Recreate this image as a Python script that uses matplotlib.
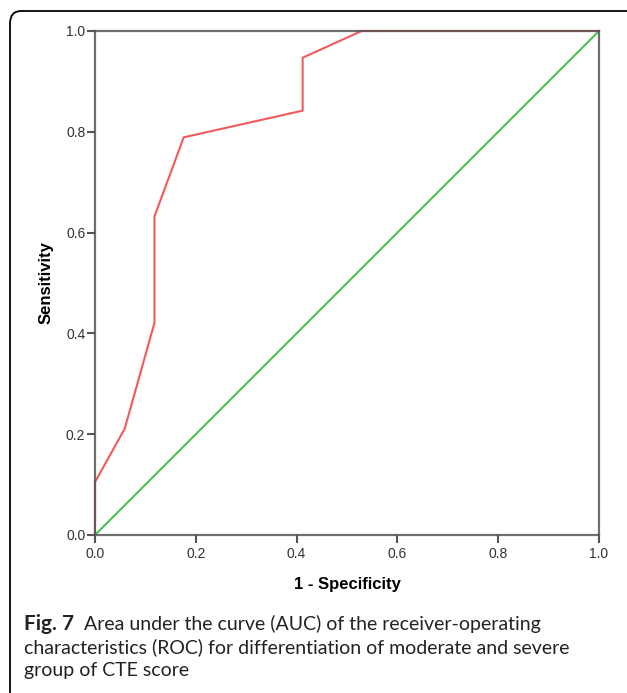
import matplotlib.pyplot as plt
from matplotlib.patches import FancyBboxPatch

# ROC curve (1 - specificity, sensitivity)
fpr = [0.0, 0.0, 0.059, 0.118, 0.118, 0.176, 0.412, 0.412, 0.529, 1.0]
tpr = [0.0, 0.105, 0.211, 0.421, 0.632, 0.789, 0.842, 0.947, 1.0, 1.0]
ref_line = [0.0, 1.0]
ticks = [0.0, 0.2, 0.4, 0.6, 0.8, 1.0]
tick_labels = ["0.0", "0.2", "0.4", "0.6", "0.8", "1.0"]

W, H = 627, 693
fig = plt.figure(figsize=(W / 100, H / 100), dpi=100)

# rounded frame around the figure (runs off the right and bottom edges)
frame = FancyBboxPatch((10 / W, -20 / H), (W + 30) / W, (H - 11 + 20) / H,
                       boxstyle="round,pad=0,rounding_size=0.018",
                       transform=fig.transFigure, fill=False,
                       edgecolor="black", linewidth=1.3, clip_on=False)
fig.patches.append(frame)

ax = fig.add_axes([95 / W, 1 - 535 / H, (599 - 95) / W, (535 - 31) / H])
ax.plot(ref_line, ref_line, color="#4cc24c", linewidth=1.5, zorder=2)
ax.plot(fpr, tpr, color="#f25a5a", linewidth=1.5, zorder=2, clip_on=False)

ax.set_xlim(0, 1)
ax.set_ylim(0, 1)
ax.set_xticks(ticks)
ax.set_yticks(ticks)
ax.set_xticklabels(tick_labels)
ax.set_yticklabels(tick_labels)
ax.tick_params(direction="out", length=6, width=1.5, color="#555555",
               labelsize=10, labelcolor="#333333")
ax.tick_params(axis="x", pad=3)
ax.tick_params(axis="y", pad=1)
for lab in ax.get_xticklabels() + ax.get_yticklabels():
    lab.set_family("Liberation Sans")
for sp in ax.spines.values():
    sp.set_color("#555555")
    sp.set_linewidth(1.6)
    sp.set_alpha(0.85)
    sp.set_zorder(3)

ax.set_xlabel("1 - Specificity", fontsize=12, fontweight="bold",
              family="Liberation Sans", labelpad=11)
ax.set_ylabel("Sensitivity", fontsize=12, fontweight="bold",
              family="Liberation Sans", labelpad=9)

# caption, bold "Fig. 7" followed by regular text on the same line
cap_x = 24 / W
cap_font = dict(fontsize=14, family="Lato", va="baseline", color="#222222")
fig.text(cap_x, 1 - 630 / H, "Fig. 7", fontweight="bold",
         **dict(cap_font, fontsize=15))
fig.text(84 / W, 1 - 630 / H,
         "Area under the curve (AUC) of the receiver-operating", **cap_font)
fig.text(cap_x, 1 - 653 / H,
         "characteristics (ROC) for differentiation of moderate and severe",
         **cap_font)
fig.text(cap_x, 1 - 676 / H, "group of CTE score", **cap_font)

fig.savefig("out.png", dpi=100)
